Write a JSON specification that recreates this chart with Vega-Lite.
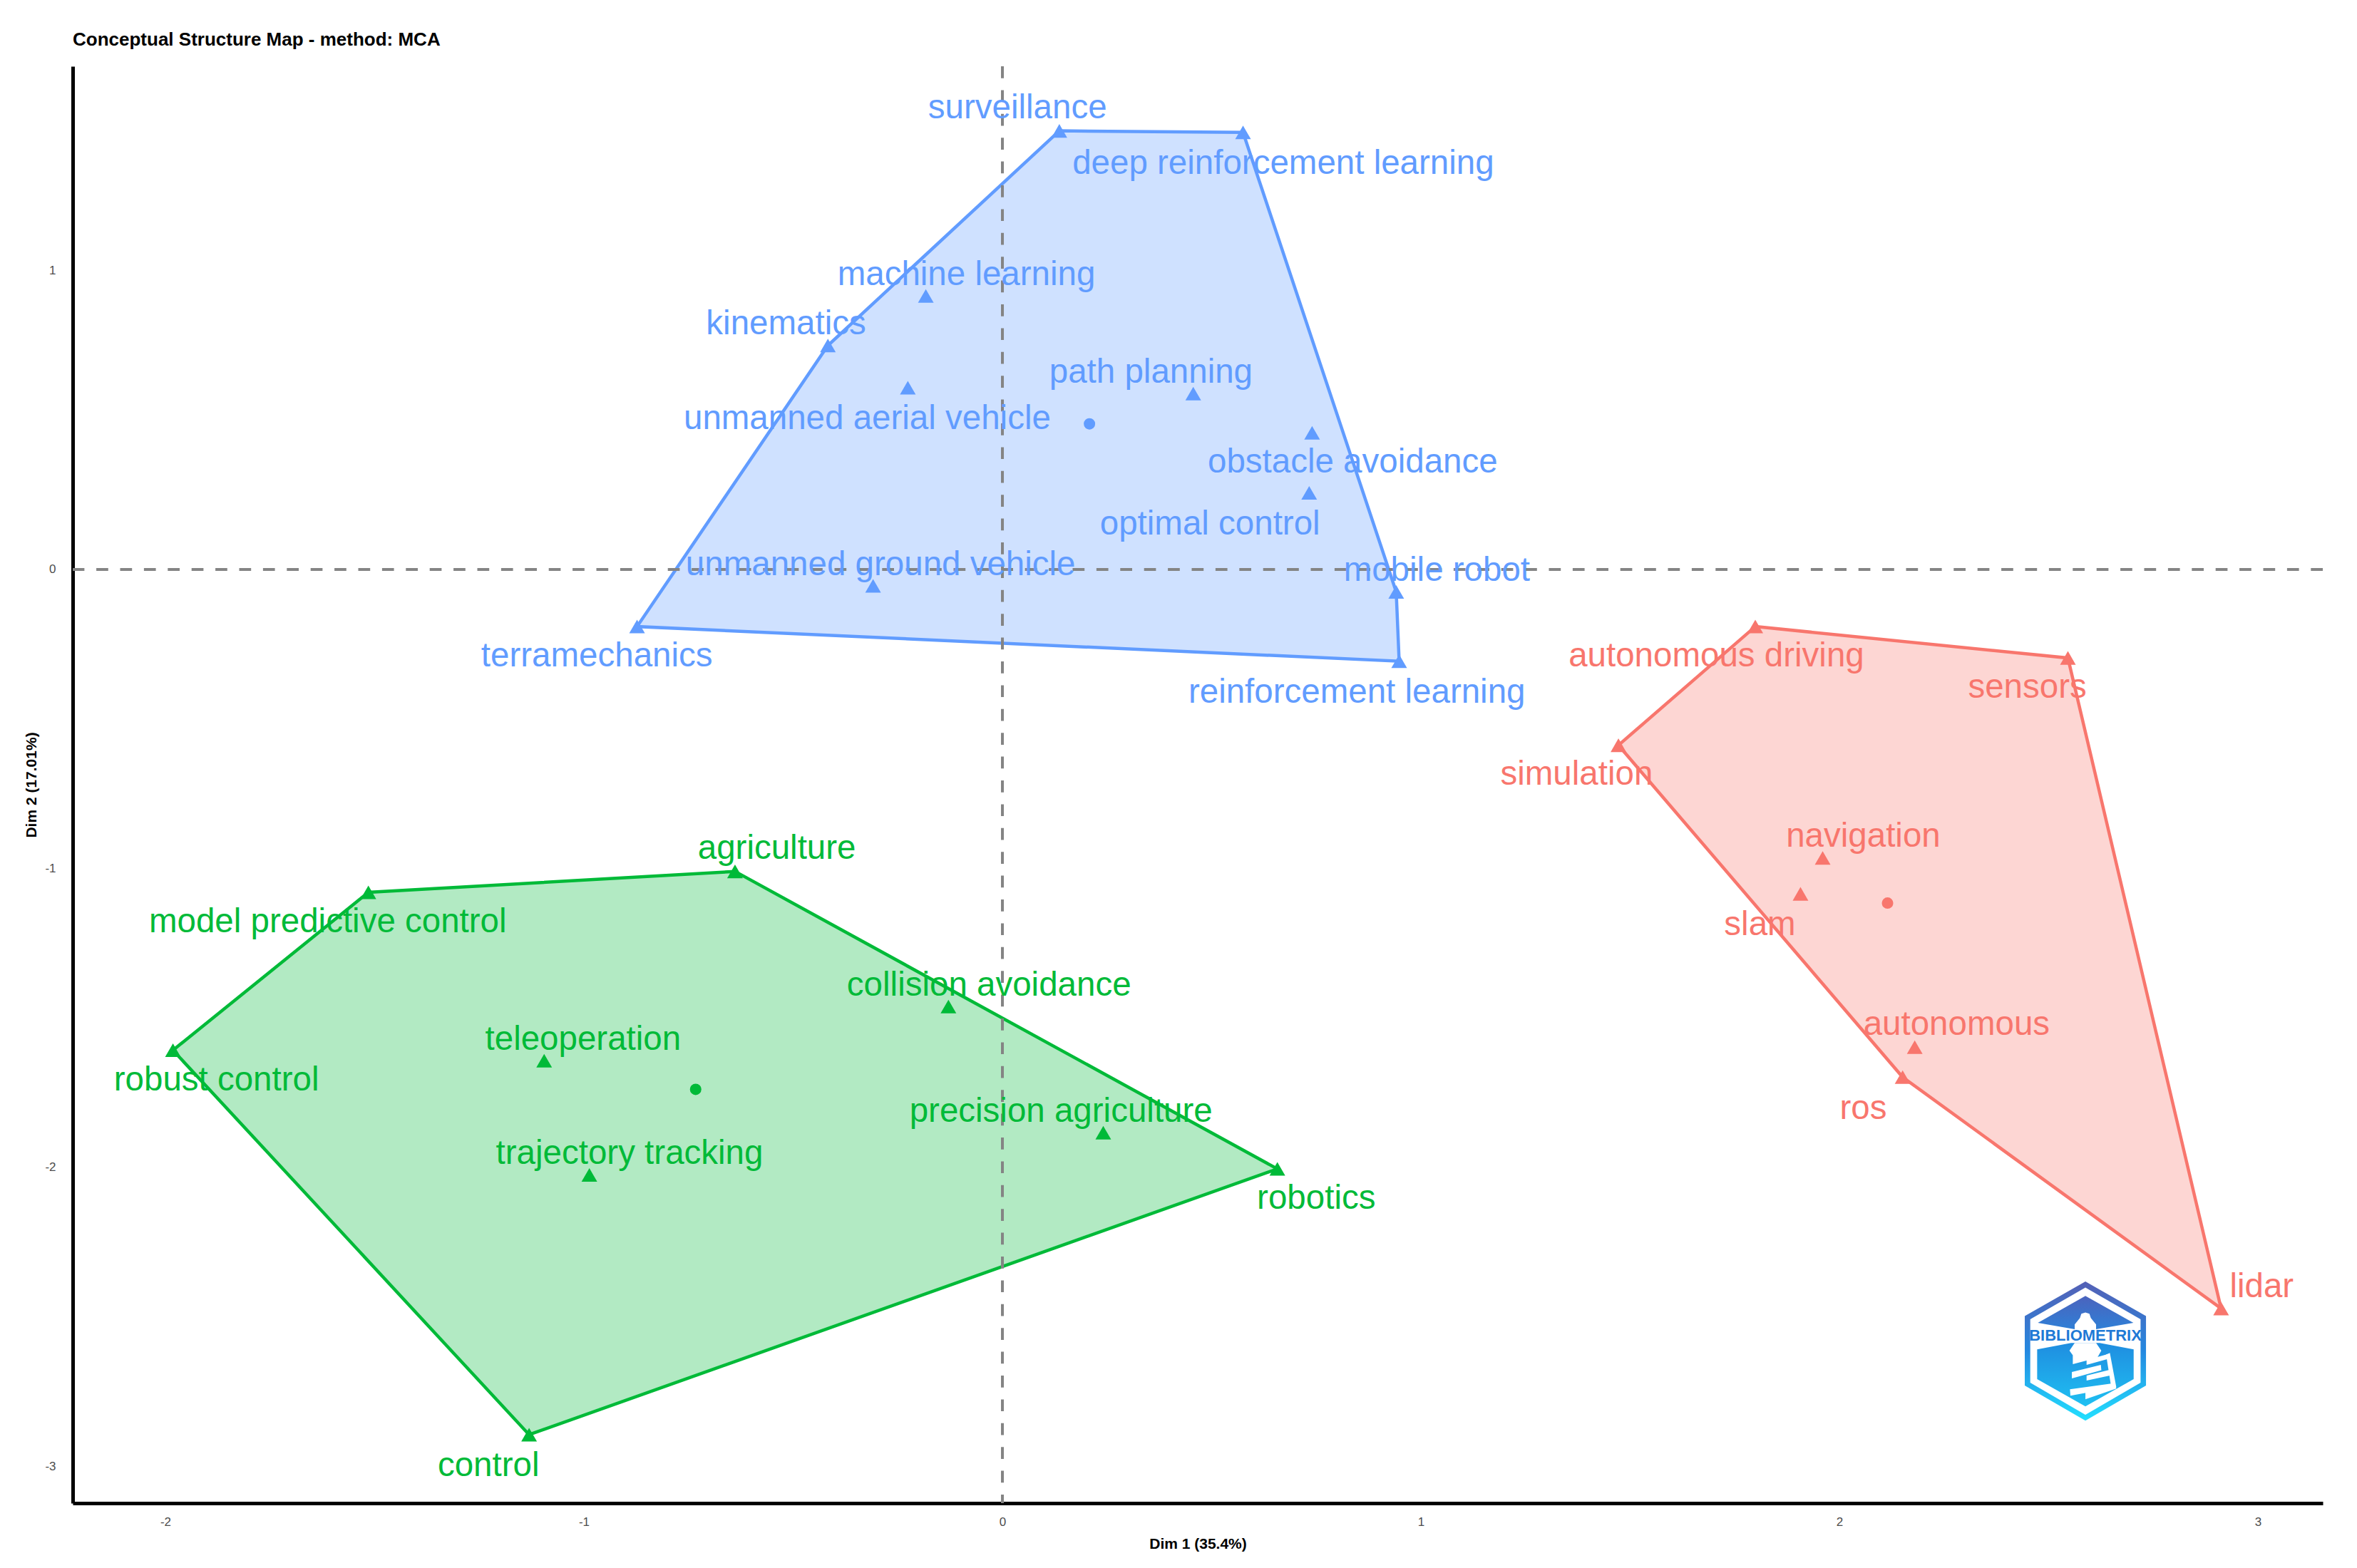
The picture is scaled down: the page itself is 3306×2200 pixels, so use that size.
{
  "$schema": "https://vega.github.io/schema/vega-lite/v6.json",
  "width": 3156,
  "height": 2016,
  "autosize": "none",
  "padding": {"left": 102, "top": 93, "right": 48, "bottom": 91},
  "background": "white",
  "title": {
    "text": "Conceptual Structure Map - method: MCA",
    "anchor": "start",
    "frame": "group",
    "font": "Liberation Sans",
    "fontSize": 26,
    "fontWeight": "bold",
    "color": "black",
    "offset": 22
  },
  "datasets": {
    "keywords": [
      {"keyword": "surveillance", "cluster": "blue", "x": 0.136, "y": 1.467, "lx": 0.036, "ly": 1.548},
      {"keyword": "deep reinforcement learning", "cluster": "blue", "x": 0.575, "y": 1.462, "lx": 0.671, "ly": 1.362},
      {"keyword": "machine learning", "cluster": "blue", "x": -0.183, "y": 0.915, "lx": -0.086, "ly": 0.99},
      {"keyword": "kinematics", "cluster": "blue", "x": -0.417, "y": 0.749, "lx": -0.517, "ly": 0.824},
      {"keyword": "unmanned aerial vehicle", "cluster": "blue", "x": -0.226, "y": 0.608, "lx": -0.323, "ly": 0.508},
      {"keyword": "path planning", "cluster": "blue", "x": 0.456, "y": 0.588, "lx": 0.355, "ly": 0.663},
      {"keyword": "obstacle avoidance", "cluster": "blue", "x": 0.74, "y": 0.457, "lx": 0.837, "ly": 0.362},
      {"keyword": "optimal control", "cluster": "blue", "x": 0.733, "y": 0.256, "lx": 0.496, "ly": 0.156},
      {"keyword": "mobile robot", "cluster": "blue", "x": 0.941, "y": -0.075, "lx": 1.038, "ly": 0},
      {"keyword": "reinforcement learning", "cluster": "blue", "x": 0.948, "y": -0.307, "lx": 0.847, "ly": -0.407},
      {"keyword": "unmanned ground vehicle", "cluster": "blue", "x": -0.309, "y": -0.055, "lx": -0.291, "ly": 0.02},
      {"keyword": "terramechanics", "cluster": "blue", "x": -0.873, "y": -0.191, "lx": -0.969, "ly": -0.286},
      {"keyword": "autonomous driving", "cluster": "red", "x": 1.799, "y": -0.191, "lx": 1.706, "ly": -0.286},
      {"keyword": "sensors", "cluster": "red", "x": 2.546, "y": -0.296, "lx": 2.449, "ly": -0.392},
      {"keyword": "simulation", "cluster": "red", "x": 1.472, "y": -0.588, "lx": 1.372, "ly": -0.683},
      {"keyword": "navigation", "cluster": "red", "x": 1.96, "y": -0.965, "lx": 2.057, "ly": -0.889},
      {"keyword": "slam", "cluster": "red", "x": 1.907, "y": -1.085, "lx": 1.81, "ly": -1.186},
      {"keyword": "autonomous", "cluster": "red", "x": 2.18, "y": -1.598, "lx": 2.28, "ly": -1.518},
      {"keyword": "ros", "cluster": "red", "x": 2.151, "y": -1.698, "lx": 2.057, "ly": -1.799},
      {"keyword": "lidar", "cluster": "red", "x": 2.912, "y": -2.472, "lx": 3.009, "ly": -2.397},
      {"keyword": "agriculture", "cluster": "green", "x": -0.639, "y": -1.01, "lx": -0.539, "ly": -0.93},
      {"keyword": "model predictive control", "cluster": "green", "x": -1.515, "y": -1.08, "lx": -1.612, "ly": -1.176},
      {"keyword": "robust control", "cluster": "green", "x": -1.982, "y": -1.608, "lx": -1.878, "ly": -1.704},
      {"keyword": "teleoperation", "cluster": "green", "x": -1.095, "y": -1.643, "lx": -1.002, "ly": -1.568},
      {"keyword": "collision avoidance", "cluster": "green", "x": -0.129, "y": -1.462, "lx": -0.032, "ly": -1.387},
      {"keyword": "trajectory tracking", "cluster": "green", "x": -0.987, "y": -2.025, "lx": -0.891, "ly": -1.95},
      {"keyword": "precision agriculture", "cluster": "green", "x": 0.241, "y": -1.884, "lx": 0.14, "ly": -1.809},
      {"keyword": "robotics", "cluster": "green", "x": 0.657, "y": -2.005, "lx": 0.75, "ly": -2.101},
      {"keyword": "control", "cluster": "green", "x": -1.131, "y": -2.894, "lx": -1.228, "ly": -2.995}
    ],
    "centroids": [
      {"cluster": "blue", "x": 0.208, "y": 0.487},
      {"cluster": "red", "x": 2.115, "y": -1.116},
      {"cluster": "green", "x": -0.733, "y": -1.739}
    ],
    "hulls": [
      {"cluster": "blue", "ord": 1, "x": 0.136, "y": 1.467},
      {"cluster": "blue", "ord": 2, "x": 0.575, "y": 1.462},
      {"cluster": "blue", "ord": 3, "x": 0.941, "y": -0.075},
      {"cluster": "blue", "ord": 4, "x": 0.948, "y": -0.307},
      {"cluster": "blue", "ord": 5, "x": -0.873, "y": -0.191},
      {"cluster": "blue", "ord": 6, "x": -0.417, "y": 0.749},
      {"cluster": "blue", "ord": 7, "x": 0.136, "y": 1.467},
      {"cluster": "red", "ord": 1, "x": 1.799, "y": -0.191},
      {"cluster": "red", "ord": 2, "x": 2.546, "y": -0.296},
      {"cluster": "red", "ord": 3, "x": 2.912, "y": -2.472},
      {"cluster": "red", "ord": 4, "x": 2.151, "y": -1.698},
      {"cluster": "red", "ord": 5, "x": 1.472, "y": -0.588},
      {"cluster": "red", "ord": 6, "x": 1.799, "y": -0.191},
      {"cluster": "green", "ord": 1, "x": -0.639, "y": -1.01},
      {"cluster": "green", "ord": 2, "x": 0.657, "y": -2.005},
      {"cluster": "green", "ord": 3, "x": -1.131, "y": -2.894},
      {"cluster": "green", "ord": 4, "x": -1.982, "y": -1.608},
      {"cluster": "green", "ord": 5, "x": -1.515, "y": -1.08},
      {"cluster": "green", "ord": 6, "x": -0.639, "y": -1.01}
    ],
    "logo": [
      {"piece": "outer", "ord": 1, "x": 2.5878, "y": -2.3814},
      {"piece": "outer", "ord": 2, "x": 2.7326, "y": -2.4974},
      {"piece": "outer", "ord": 3, "x": 2.7326, "y": -2.7294},
      {"piece": "outer", "ord": 4, "x": 2.5878, "y": -2.8471},
      {"piece": "outer", "ord": 5, "x": 2.4429, "y": -2.7294},
      {"piece": "outer", "ord": 6, "x": 2.4429, "y": -2.4974},
      {"piece": "outer", "ord": 7, "x": 2.5878, "y": -2.3814},
      {"piece": "ring", "ord": 1, "x": 2.5878, "y": -2.4021},
      {"piece": "ring", "ord": 2, "x": 2.7196, "y": -2.5077},
      {"piece": "ring", "ord": 3, "x": 2.7196, "y": -2.7199},
      {"piece": "ring", "ord": 4, "x": 2.5878, "y": -2.8272},
      {"piece": "ring", "ord": 5, "x": 2.456, "y": -2.7199},
      {"piece": "ring", "ord": 6, "x": 2.456, "y": -2.5077},
      {"piece": "ring", "ord": 7, "x": 2.5878, "y": -2.4021},
      {"piece": "top", "ord": 1, "x": 2.5878, "y": -2.4299},
      {"piece": "top", "ord": 2, "x": 2.7025, "y": -2.5197},
      {"piece": "top", "ord": 3, "x": 2.6133, "y": -2.5411},
      {"piece": "top", "ord": 4, "x": 2.5622, "y": -2.5411},
      {"piece": "top", "ord": 5, "x": 2.4742, "y": -2.5197},
      {"piece": "top", "ord": 6, "x": 2.5878, "y": -2.4299},
      {"piece": "bottom", "ord": 1, "x": 2.4725, "y": -2.6087},
      {"piece": "bottom", "ord": 2, "x": 2.5537, "y": -2.5872},
      {"piece": "bottom", "ord": 3, "x": 2.6219, "y": -2.5872},
      {"piece": "bottom", "ord": 4, "x": 2.7031, "y": -2.6087},
      {"piece": "bottom", "ord": 5, "x": 2.7031, "y": -2.708},
      {"piece": "bottom", "ord": 6, "x": 2.5878, "y": -2.7994},
      {"piece": "bottom", "ord": 7, "x": 2.4725, "y": -2.708},
      {"piece": "bottom", "ord": 8, "x": 2.4725, "y": -2.6087},
      {"piece": "cap", "ord": 1, "x": 2.5622, "y": -2.5411},
      {"piece": "cap", "ord": 2, "x": 2.5622, "y": -2.5252},
      {"piece": "cap", "ord": 3, "x": 2.5747, "y": -2.5038},
      {"piece": "cap", "ord": 4, "x": 2.5781, "y": -2.4895},
      {"piece": "cap", "ord": 5, "x": 2.5878, "y": -2.4855},
      {"piece": "cap", "ord": 6, "x": 2.5974, "y": -2.4895},
      {"piece": "cap", "ord": 7, "x": 2.6008, "y": -2.5038},
      {"piece": "cap", "ord": 8, "x": 2.6133, "y": -2.5252},
      {"piece": "cap", "ord": 9, "x": 2.6133, "y": -2.5411},
      {"piece": "tower", "ord": 1, "x": 2.5497, "y": -2.6126},
      {"piece": "tower", "ord": 2, "x": 2.5622, "y": -2.5872},
      {"piece": "tower", "ord": 3, "x": 2.6133, "y": -2.5872},
      {"piece": "tower", "ord": 4, "x": 2.6258, "y": -2.6126},
      {"piece": "tower", "ord": 5, "x": 2.6162, "y": -2.6365},
      {"piece": "tower", "ord": 6, "x": 2.5577, "y": -2.6579},
      {"piece": "tower", "ord": 7, "x": 2.5577, "y": -2.6286},
      {"piece": "tower", "ord": 8, "x": 2.5497, "y": -2.6126},
      {"piece": "side", "ord": 1, "x": 2.6372, "y": -2.6261},
      {"piece": "side", "ord": 2, "x": 2.6463, "y": -2.6206},
      {"piece": "side", "ord": 3, "x": 2.6616, "y": -2.7358},
      {"piece": "side", "ord": 4, "x": 2.6503, "y": -2.7422},
      {"piece": "bar1", "ord": 1, "x": 2.5906, "y": -2.6444},
      {"piece": "bar1", "ord": 2, "x": 2.6406, "y": -2.6246},
      {"piece": "bar1", "ord": 3, "x": 2.6429, "y": -2.64},
      {"piece": "bar1", "ord": 4, "x": 2.5906, "y": -2.6607},
      {"piece": "bar2", "ord": 1, "x": 2.5554, "y": -2.6842},
      {"piece": "bar2", "ord": 2, "x": 2.6247, "y": -2.6603},
      {"piece": "bar2", "ord": 3, "x": 2.6259, "y": -2.6786},
      {"piece": "bar2", "ord": 4, "x": 2.5554, "y": -2.7056},
      {"piece": "bar3", "ord": 1, "x": 2.5906, "y": -2.6961},
      {"piece": "bar3", "ord": 2, "x": 2.652, "y": -2.6747},
      {"piece": "bar3", "ord": 3, "x": 2.6542, "y": -2.6941},
      {"piece": "bar3", "ord": 4, "x": 2.5906, "y": -2.713},
      {"piece": "bar4", "ord": 1, "x": 2.5509, "y": -2.7422},
      {"piece": "bar4", "ord": 2, "x": 2.6588, "y": -2.7215},
      {"piece": "bar4", "ord": 3, "x": 2.66, "y": -2.7358},
      {"piece": "bar4", "ord": 4, "x": 2.552, "y": -2.7636},
      {"piece": "bar5", "ord": 1, "x": 2.5878, "y": -2.7517},
      {"piece": "bar5", "ord": 2, "x": 2.66, "y": -2.7342},
      {"piece": "bar5", "ord": 3, "x": 2.6616, "y": -2.7398},
      {"piece": "bar5", "ord": 4, "x": 2.5878, "y": -2.7756}
    ]
  },
  "layer": [
    {
      "data": {"name": "hulls"},
      "mark": {"type": "line", "strokeWidth": 4.5, "fillOpacity": 0.3, "fill": "#888888"},
      "encoding": {
        "x": {"field": "x", "type": "quantitative", "title": "Dim 1 (35.4%)", "scale": {"domain": [-2.2215, 3.155], "nice": false, "zero": false}, "axis": {"values": [-2, -1, 0, 1, 2, 3], "labelExpr": "'' + datum.value", "labelPadding": 18, "titlePadding": 12}},
        "y": {"field": "y", "type": "quantitative", "title": "Dim 2 (17.01%)", "scale": {"domain": [-3.123, 1.683], "nice": false, "zero": false}, "axis": {"values": [-3, -2, -1, 0, 1], "labelExpr": "'' + datum.value", "labelPadding": 24, "titlePadding": 8}},
        "order": {"field": "ord", "type": "quantitative"},
        "color": {"field": "cluster", "type": "nominal", "scale": {"domain": ["blue", "red", "green"], "range": ["#619CFF", "#F8766D", "#00BA38"]}, "legend": null},
        "fill": {"field": "cluster", "type": "nominal", "scale": {"domain": ["blue", "red", "green"], "range": ["#619CFF", "#F8766D", "#00BA38"]}, "legend": null}
      }
    },
    {
      "data": {"values": [{"zero": 0}]},
      "mark": {"type": "rule", "color": "#848484", "strokeWidth": 4, "strokeDash": [16.7, 16.7]},
      "encoding": {"x": {"field": "zero", "type": "quantitative", "title": "Dim 1 (35.4%)"}}
    },
    {
      "data": {"values": [{"zero": 0}]},
      "mark": {"type": "rule", "color": "#848484", "strokeWidth": 4, "strokeDash": [16.7, 16.7]},
      "encoding": {"y": {"field": "zero", "type": "quantitative", "title": "Dim 2 (17.01%)"}}
    },
    {
      "data": {"name": "keywords"},
      "mark": {"type": "point", "shape": "triangle-up", "filled": true, "size": 484, "opacity": 1},
      "encoding": {
        "x": {"field": "x", "type": "quantitative", "title": "Dim 1 (35.4%)"},
        "y": {"field": "y", "type": "quantitative", "title": "Dim 2 (17.01%)"},
        "color": {"field": "cluster", "type": "nominal", "legend": null}
      }
    },
    {
      "data": {"name": "centroids"},
      "mark": {"type": "circle", "size": 256, "opacity": 1},
      "encoding": {
        "x": {"field": "x", "type": "quantitative", "title": "Dim 1 (35.4%)"},
        "y": {"field": "y", "type": "quantitative", "title": "Dim 2 (17.01%)"},
        "color": {"field": "cluster", "type": "nominal", "legend": null}
      }
    },
    {
      "data": {"name": "keywords"},
      "mark": {"type": "text", "font": "Liberation Sans", "fontSize": 47.5, "align": "center", "baseline": "middle", "dy": 2},
      "encoding": {
        "x": {"field": "lx", "type": "quantitative", "title": "Dim 1 (35.4%)"},
        "y": {"field": "ly", "type": "quantitative", "title": "Dim 2 (17.01%)"},
        "text": {"field": "keyword", "type": "nominal"},
        "color": {"field": "cluster", "type": "nominal", "legend": null}
      }
    },
    {
      "data": {"name": "logo"},
      "transform": [{"filter": "datum.piece == 'outer'"}],
      "mark": {"type": "line", "strokeWidth": 0, "fill": {"gradient": "linear", "x1": 0, "y1": 0, "x2": 0, "y2": 1, "stops": [{"offset": 0, "color": "#5560b5"}, {"offset": 0.5, "color": "#2488e0"}, {"offset": 1, "color": "#22e0ff"}]}},
      "encoding": {
        "x": {"field": "x", "type": "quantitative", "title": "Dim 1 (35.4%)"},
        "y": {"field": "y", "type": "quantitative", "title": "Dim 2 (17.01%)"},
        "order": {"field": "ord", "type": "quantitative"}
      }
    },
    {
      "data": {"name": "logo"},
      "transform": [{"filter": "datum.piece == 'ring'"}],
      "mark": {"type": "line", "strokeWidth": 0, "fill": "white"},
      "encoding": {
        "x": {"field": "x", "type": "quantitative", "title": "Dim 1 (35.4%)"},
        "y": {"field": "y", "type": "quantitative", "title": "Dim 2 (17.01%)"},
        "order": {"field": "ord", "type": "quantitative"}
      }
    },
    {
      "data": {"name": "logo"},
      "transform": [{"filter": "datum.piece == 'top'"}],
      "mark": {"type": "line", "strokeWidth": 0, "fill": {"gradient": "linear", "x1": 0, "y1": 0, "x2": 0, "y2": 1, "stops": [{"offset": 0, "color": "#4b63bd"}, {"offset": 1, "color": "#2f7fd6"}]}},
      "encoding": {
        "x": {"field": "x", "type": "quantitative", "title": "Dim 1 (35.4%)"},
        "y": {"field": "y", "type": "quantitative", "title": "Dim 2 (17.01%)"},
        "order": {"field": "ord", "type": "quantitative"}
      }
    },
    {
      "data": {"name": "logo"},
      "transform": [{"filter": "datum.piece == 'bottom'"}],
      "mark": {"type": "line", "strokeWidth": 0, "fill": {"gradient": "linear", "x1": 0, "y1": 0, "x2": 0, "y2": 1, "stops": [{"offset": 0, "color": "#1f8de0"}, {"offset": 1, "color": "#1fc0f2"}]}},
      "encoding": {
        "x": {"field": "x", "type": "quantitative", "title": "Dim 1 (35.4%)"},
        "y": {"field": "y", "type": "quantitative", "title": "Dim 2 (17.01%)"},
        "order": {"field": "ord", "type": "quantitative"}
      }
    },
    {
      "data": {"name": "logo"},
      "transform": [{"filter": "indexof(['cap','tower','side','bar1','bar2','bar3','bar4','bar5'], datum.piece) >= 0"}],
      "mark": {"type": "line", "strokeWidth": 0, "fill": "white"},
      "encoding": {
        "x": {"field": "x", "type": "quantitative", "title": "Dim 1 (35.4%)"},
        "y": {"field": "y", "type": "quantitative", "title": "Dim 2 (17.01%)"},
        "order": {"field": "ord", "type": "quantitative"},
        "detail": {"field": "piece", "type": "nominal"}
      }
    },
    {
      "data": {"values": [{"x": 2.5878, "y": -2.5626, "brand": "BIBLIOMETRIX"}]},
      "mark": {"type": "text", "font": "Liberation Sans", "fontSize": 22, "fontWeight": "bold", "color": "#1f7ad6", "align": "center", "baseline": "middle"},
      "encoding": {
        "x": {"field": "x", "type": "quantitative", "title": "Dim 1 (35.4%)"},
        "y": {"field": "y", "type": "quantitative", "title": "Dim 2 (17.01%)"},
        "text": {"field": "brand", "type": "nominal"}
      }
    }
  ],
  "config": {
    "view": {"stroke": null},
    "axis": {
      "grid": false,
      "ticks": false,
      "domainColor": "black",
      "domainWidth": 5,
      "labelFont": "Liberation Sans",
      "labelFontSize": 17,
      "labelColor": "#4d4d4d",
      "labelOverlap": false,
      "labelFlush": false,
      "titleFont": "Liberation Sans",
      "titleFontSize": 21,
      "titleFontWeight": "bold",
      "titleColor": "black"
    }
  }
}
